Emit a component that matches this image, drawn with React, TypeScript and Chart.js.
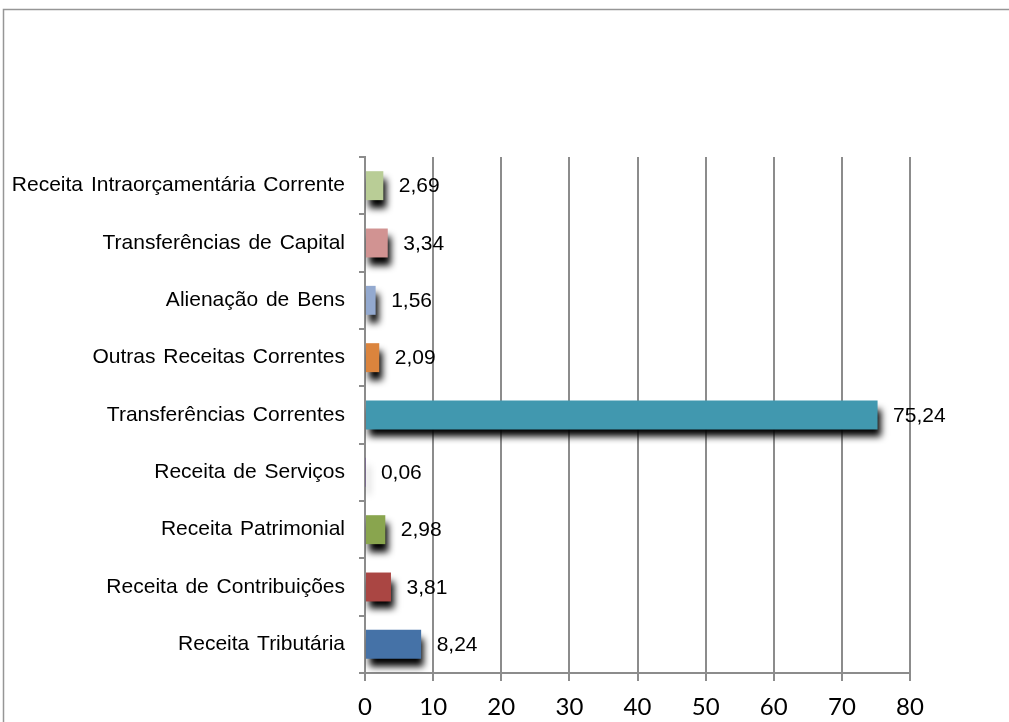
import React, { useEffect, useRef } from "react";
import { Chart, registerables } from "chart.js";

Chart.register(...registerables);

const categories = [
  "Receita Tributária",
  "Receita de Contribuições",
  "Receita Patrimonial",
  "Receita de Serviços",
  "Transferências Correntes",
  "Outras Receitas Correntes",
  "Alienação de Bens",
  "Transferências de Capital",
  "Receita Intraorçamentária Corrente",
];

const values = [8.24, 3.81, 2.98, 0.06, 75.24, 2.09, 1.56, 3.34, 2.69];

const valueLabels = ["8,24", "3,81", "2,98", "0,06", "75,24", "2,09", "1,56", "3,34", "2,69"];

const barColors = [
  "#4572A7",
  "#AA4643",
  "#89A54E",
  "#71588F",
  "#4198AF",
  "#DB843D",
  "#93A9CF",
  "#D19392",
  "#B9CD96",
];

const xTicks = [0, 10, 20, 30, 40, 50, 60, 70, 80];

const GRID = "rgb(140,140,140)";

const framePlugin = {
  id: "frame",
  beforeDraw(chart: any) {
    const ctx = chart.ctx;
    ctx.save();
    ctx.fillStyle = "#ffffff";
    ctx.fillRect(0, 0, chart.width, chart.height);
    ctx.strokeStyle = "rgb(150,150,150)";
    ctx.lineWidth = 1.5;
    ctx.beginPath();
    ctx.moveTo(3.5, chart.height + 5);
    ctx.lineTo(3.5, 9.5);
    ctx.lineTo(chart.width + 5, 9.5);
    ctx.stroke();
    ctx.restore();
    try {
      (ctx as any).wordSpacing = "2px";
    } catch (e) {}
  },
};

const shadowPlugin = {
  id: "barShadow",
  beforeDatasetDraw(chart: any) {
    const ctx = chart.ctx;
    ctx.save();
    ctx.shadowColor = "rgba(0,0,0,1)";
    ctx.shadowBlur = 7;
    ctx.shadowOffsetX = 3;
    ctx.shadowOffsetY = 8;
  },
  afterDatasetDraw(chart: any) {
    chart.ctx.restore();
  },
};

const labelPlugin = {
  id: "valueLabels",
  afterDatasetsDraw(chart: any) {
    const ctx = chart.ctx;
    const meta = chart.getDatasetMeta(0);
    ctx.save();
    ctx.font = '21px "Liberation Sans", Arial, sans-serif';
    ctx.fillStyle = "#000000";
    ctx.textAlign = "left";
    ctx.textBaseline = "middle";
    meta.data.forEach((bar: any, i: number) => {
      ctx.fillText(valueLabels[i], bar.x + 15.5, bar.y + 1);
    });
    ctx.restore();
  },
};

export default function App() {
  const canvasRef = useRef<HTMLCanvasElement | null>(null);

  useEffect(() => {
    if (!canvasRef.current) return;
    const chart = new Chart(canvasRef.current, {
      type: "bar",
      data: {
        labels: categories,
        datasets: [
          {
            data: values,
            backgroundColor: barColors,
            borderWidth: 0,
            barPercentage: 0.505,
            categoryPercentage: 1,
          },
        ],
      },
      options: {
        indexAxis: "y",
        animation: false,
        responsive: true,
        maintainAspectRatio: false,
        layout: { padding: { top: 157, right: 99, bottom: 0, left: 0 } },
        plugins: {
          legend: { display: false },
          tooltip: { enabled: false },
          title: { display: false },
        },
        scales: {
          x: {
            type: "linear",
            min: 0,
            max: 80,
            afterBuildTicks: (scale: any) => {
              scale.ticks = xTicks.map((v) => ({ value: v }));
            },
            afterFit: (scale: any) => {
              scale.height = 49;
            },
            ticks: {
              color: "#000000",
              font: { family: "Lato, 'Open Sans', sans-serif", size: 24 },
              padding: 12,
              maxRotation: 0,
            },
            grid: {
              color: GRID,
              lineWidth: 2,
              tickLength: 8,
              drawOnChartArea: true,
              drawTicks: true,
            },
            border: { display: true, color: GRID, width: 2 },
          },
          y: {
            reverse: true,
            afterFit: (scale: any) => {
              scale.width = 365;
            },
            ticks: {
              color: "#000000",
              font: { family: "'Liberation Sans', Arial, sans-serif", size: 21 },
              padding: 14,
              autoSkip: false,
            },
            grid: {
              color: GRID,
              lineWidth: 2,
              tickLength: 6,
              drawOnChartArea: false,
              drawTicks: true,
            },
            border: { display: true, color: GRID, width: 2 },
          },
        },
      },
      plugins: [framePlugin, shadowPlugin, labelPlugin],
    });
    return () => chart.destroy();
  }, []);

  return (
    <div
      style={{
        position: "absolute",
        left: 0,
        top: 0,
        width: 1009,
        height: 722,
        overflow: "hidden",
        background: "#ffffff",
      }}
    >
      <canvas ref={canvasRef} />
    </div>
  );
}
